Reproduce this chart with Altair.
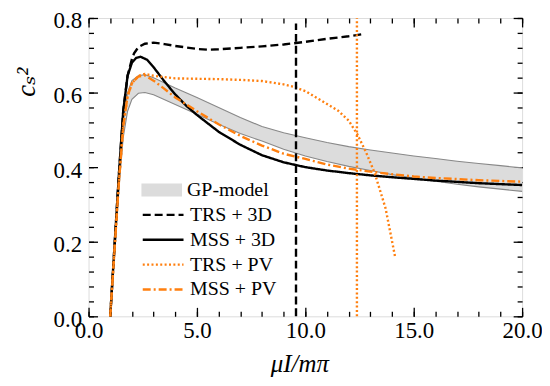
import altair as alt
import pandas as pd

# ---------------- data ----------------
x_gp = [1.0, 1.2, 1.4, 1.6, 1.8, 2.0, 2.3, 2.6, 3.0, 4.0, 5.0, 6.0, 7.0, 8.0, 9.0,
        10.0, 11.0, 12.0, 13.0, 14.0, 15.0, 16.0, 17.0, 18.0, 19.0, 20.0]
gp_upper = [0.0, 0.18, 0.37, 0.52, 0.60, 0.632, 0.645, 0.648, 0.64, 0.612, 0.587, 0.56, 0.533,
            0.509, 0.492, 0.479, 0.466, 0.455, 0.446, 0.438, 0.43, 0.423, 0.416, 0.41, 0.404, 0.398]
gp_lower = [0.0, 0.17, 0.34, 0.48, 0.55, 0.582, 0.598, 0.60, 0.594, 0.568, 0.542, 0.515, 0.49,
            0.47, 0.448, 0.43, 0.415, 0.402, 0.391, 0.38, 0.371, 0.362, 0.354, 0.347, 0.341, 0.335]

x_trs3d = [1.0, 1.2, 1.4, 1.6, 1.8, 2.0, 2.1, 2.3, 2.6, 3.0, 3.5, 4.0, 5.0, 5.5, 6.0, 7.0,
           8.0, 9.0, 10.0, 11.0, 12.0, 12.7]
y_trs3d = [0.0, 0.19, 0.38, 0.55, 0.645, 0.69, 0.705, 0.722, 0.731, 0.734, 0.73, 0.725, 0.717,
           0.715, 0.716, 0.72, 0.724, 0.729, 0.736, 0.744, 0.751, 0.757]

x_mss3d = [1.0, 1.2, 1.4, 1.6, 1.8, 2.0, 2.2, 2.4, 2.7, 3.0, 3.5, 4.0, 4.5, 5.0, 6.0, 7.0,
           8.0, 9.0, 10.0, 11.0, 12.0, 13.0, 14.0, 16.0, 18.0, 20.0]
y_mss3d = [0.0, 0.19, 0.38, 0.55, 0.645, 0.68, 0.693, 0.696, 0.688, 0.668, 0.63, 0.595, 0.565,
           0.54, 0.495, 0.46, 0.432, 0.413, 0.40, 0.391, 0.384, 0.378, 0.373, 0.364, 0.357, 0.352]

x_trspv = [1.0, 1.2, 1.4, 1.6, 1.8, 2.0, 2.3, 2.6, 3.0, 4.0, 5.0, 6.0, 7.0, 8.0, 9.0, 9.5,
           10.0, 10.9, 11.5, 12.0, 12.4, 12.8, 13.2, 13.7, 14.15]
y_trspv = [0.0, 0.18, 0.36, 0.51, 0.59, 0.625, 0.645, 0.65, 0.645, 0.638, 0.637, 0.636, 0.634,
           0.631, 0.622, 0.615, 0.604, 0.573, 0.552, 0.525, 0.488, 0.44, 0.384, 0.29, 0.157]

x_msspv = [1.0, 1.2, 1.4, 1.6, 1.8, 2.0, 2.3, 2.6, 3.0, 3.5, 4.0, 5.0, 6.0, 7.0, 8.0, 9.0,
           10.0, 11.0, 12.0, 13.0, 14.0, 15.0, 16.0, 18.0, 20.0]
y_msspv = [0.0, 0.18, 0.36, 0.51, 0.59, 0.625, 0.643, 0.646, 0.632, 0.61, 0.587, 0.55, 0.515,
           0.484, 0.458, 0.436, 0.422, 0.407, 0.396, 0.388, 0.381, 0.375, 0.371, 0.365, 0.361]

series_names = ["TRS + 3D", "MSS + 3D", "TRS + PV", "MSS + PV"]
series_colors = ["black", "black", "#ff7f0e", "#ff7f0e"]
series_dashes = [[8, 4], [1, 0], [2, 2.4], [8, 3, 2, 3]]

# vertical marker lines (TRS + 3D, TRS + PV)
vline_x = [9.57, 12.38]
vline_top = [0.785, 0.8]
vline_series = ["TRS + 3D", "TRS + PV"]

gp_name = "GP-model"
x_ticks = [0.0, 5.0, 10.0, 15.0, 20.0]
y_ticks = [0.0, 0.2, 0.4, 0.6, 0.8]
x_minor = [float(v) for v in range(0, 21)]
y_minor = [round(0.04 * i, 2) for i in range(0, 21)]

# ---------------- tables ----------------
gp_df = pd.DataFrame({"x": x_gp, "upper": gp_upper, "lower": gp_lower, "name": gp_name})
rows = []
for name, xs, ys in [("TRS + 3D", x_trs3d, y_trs3d), ("MSS + 3D", x_mss3d, y_mss3d),
                     ("TRS + PV", x_trspv, y_trspv), ("MSS + PV", x_msspv, y_msspv)]:
    for i, (a, b) in enumerate(zip(xs, ys)):
        rows.append({"x": a, "y": b, "series": name, "i": i})
lines_df = pd.DataFrame(rows)
vl_df = pd.DataFrame({"x": vline_x, "y0": [0.0, 0.0], "top": vline_top, "series": vline_series})

FONT = "Liberation Serif, DejaVu Serif, serif"
TICK_FS = 23
LEG_FS = 20
xscale = alt.Scale(domain=[0, 20], nice=False, zero=False)
yscale = alt.Scale(domain=[0, 0.8], nice=False, zero=False)


def tick_axis(orient, values, size):
    return alt.Axis(orient=orient, values=values, labels=False, domain=False, grid=False,
                    ticks=True, tickSize=size, offset=-size, tickColor="black",
                    tickWidth=1.3, title=None)


def legend(y):
    return dict(orient="none", legendX=53, legendY=y, title=None, symbolSize=1681,
                labelOffset=5, padding=0, rowPadding=5, clipHeight=20,
                labelFont=FONT, labelFontSize=LEG_FS, labelColor="black")


# GP band + label axes
band = alt.Chart(gp_df).mark_area(color="#dcdcdc", opacity=1).encode(
    x=alt.X("x:Q", scale=xscale,
            axis=alt.Axis(orient="bottom", values=x_ticks, format=".1f", ticks=False,
                          domain=False, grid=False, labelPadding=3, labelFlush=False,
                          labelOverlap=False, labelFont=FONT, labelFontSize=TICK_FS,
                          labelColor="black",
                          title="μI/mπ", titleFont=FONT, titleFontSize=25,
                          titleFontStyle="italic", titleFontWeight="normal",
                          titleColor="black", titleX=212, titleY=48,
                          titleAlign="center", titleBaseline="middle")),
    y=alt.Y("upper:Q", scale=yscale,
            axis=alt.Axis(orient="left", values=y_ticks, format=".1f", ticks=False,
                          domain=False, grid=False, labelPadding=7, labelFlush=False,
                          labelOffset=3, labelOverlap=False, labelFont=FONT,
                          labelFontSize=TICK_FS, labelColor="black",
                          title="cₛ²", titleFont=FONT, titleFontSize=27,
                          titleFontStyle="italic", titleFontWeight="normal",
                          titleColor="black", titleX=-62, titleY=64, titleAngle=-90,
                          titleAlign="center", titleBaseline="middle")),
    y2="lower:Q",
    fill=alt.Fill("name:N", scale=alt.Scale(domain=[gp_name], range=["#dcdcdc"]),
                  legend=alt.Legend(symbolType="M-1,-0.32H1V0.32H-1Z", symbolStrokeWidth=0,
                                    **legend(163))),
)

upper_line = alt.Chart(gp_df).mark_line(color="#888888", strokeWidth=1.1).encode(
    x=alt.X("x:Q", scale=xscale, axis=tick_axis("bottom", x_ticks, 9)),
    y=alt.Y("upper:Q", scale=yscale, axis=tick_axis("left", y_ticks, 9)),
)
lower_line = alt.Chart(gp_df).mark_line(color="#888888", strokeWidth=1.1).encode(
    x=alt.X("x:Q", scale=xscale, axis=tick_axis("bottom", x_minor, 5)),
    y=alt.Y("lower:Q", scale=yscale, axis=tick_axis("left", y_minor, 5)),
)

curves = alt.Chart(lines_df).mark_line(strokeWidth=2.4).encode(
    x=alt.X("x:Q", scale=xscale, axis=tick_axis("top", x_ticks, 9)),
    y=alt.Y("y:Q", scale=yscale, axis=tick_axis("right", y_ticks, 9)),
    color=alt.Color("series:N", scale=alt.Scale(domain=series_names, range=series_colors),
                    legend=alt.Legend(symbolType="stroke", symbolStrokeWidth=2.4,
                                      **legend(188))),
    strokeDash=alt.StrokeDash("series:N",
                              scale=alt.Scale(domain=series_names, range=series_dashes),
                              legend=alt.Legend(symbolType="stroke", symbolStrokeWidth=2.4,
                                                **legend(188))),
    order="i:Q",
)

vrules = alt.Chart(vl_df).mark_rule(strokeWidth=2.4).encode(
    x=alt.X("x:Q", scale=xscale, axis=tick_axis("top", x_minor, 5)),
    y=alt.Y("y0:Q", scale=yscale, axis=tick_axis("right", y_minor, 5)),
    y2="top:Q",
    color=alt.Color("series:N", scale=alt.Scale(domain=series_names, range=series_colors),
                    legend=None),
    strokeDash=alt.StrokeDash("series:N",
                              scale=alt.Scale(domain=series_names, range=series_dashes),
                              legend=None),
)

chart = alt.layer(band, upper_line, lower_line, curves, vrules).resolve_axis(
    x="independent", y="independent"
).properties(
    width=436, height=300,
    autosize=alt.AutoSizeParams(type="none"),
    padding={"left": 81, "top": 9, "right": 20, "bottom": 63},
).configure_view(stroke="black", strokeWidth=1.8).configure(background="white")

chart.save("out.html", embed_options={"renderer": "svg", "actions": False})
